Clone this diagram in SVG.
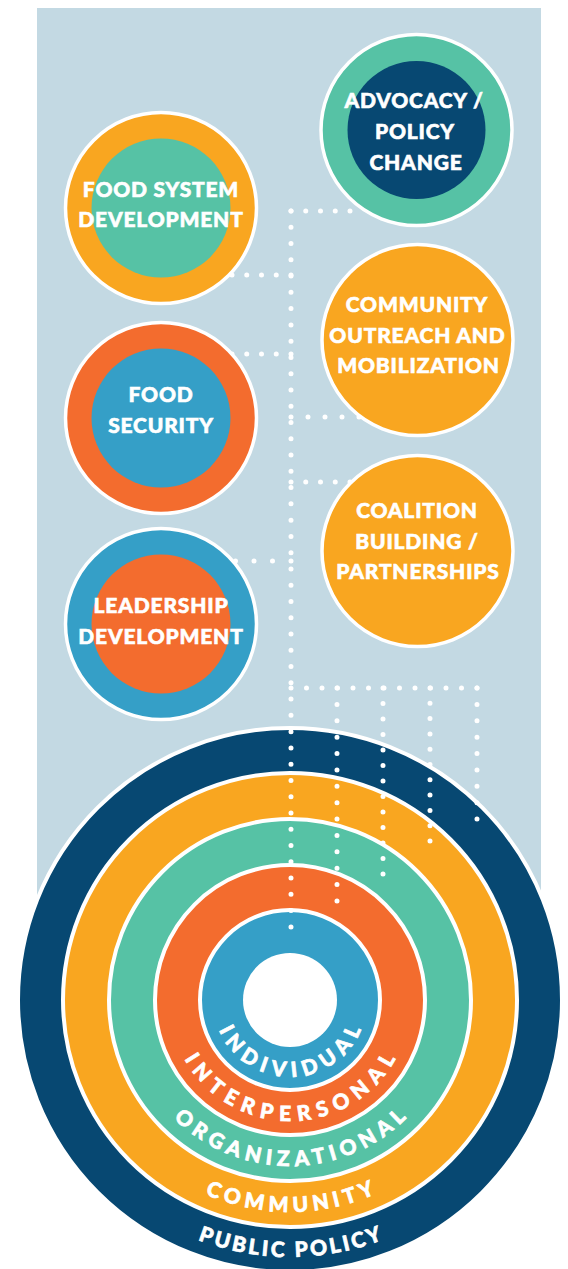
<svg xmlns="http://www.w3.org/2000/svg" width="568" height="1269" viewBox="0 0 568 1269">
<style>
.lbl{font-family:Lato,"Liberation Sans",sans-serif;font-weight:900;font-size:21px;fill:#fff;stroke:#fff;stroke-width:0.6px;text-anchor:middle;letter-spacing:0.8px}
.ring{font-family:Lato,"Liberation Sans",sans-serif;font-weight:900;font-size:21px;fill:#fff;stroke:#fff;stroke-width:0.7px;text-anchor:middle}
.outer{stroke:#fff;stroke-width:3.5}
.band{stroke:#fff;stroke-width:4}
.dot{stroke:#fff;stroke-width:5;stroke-linecap:round;fill:none}
</style>
<defs>
<path id="p77" d="M213 1000 A77 77 0 0 0 367 1000"/>
<path id="p121" d="M169 1000 A121 121 0 0 0 411 1000"/>
<path id="p166" d="M124 1000 A166 166 0 0 0 456 1000"/>
<path id="p212" d="M78 1000 A212 212 0 0 0 502 1000"/>
<path id="p257" d="M33 1000 A257 257 0 0 0 547 1000"/>
</defs>
<rect x="37" y="8" width="504" height="992" fill="#c3d9e3"/>
<g id="public-policy">
<circle cx="290" cy="1000" r="272" fill="#074872" class="band"/>
<text class="ring" style="letter-spacing:2.9px"><textPath href="#p257" startOffset="405.2">PUBLIC POLICY</textPath></text>
</g>
<g id="community">
<circle cx="290" cy="1000" r="227" fill="#f9a620" class="band"/>
<text class="ring" style="letter-spacing:5px"><textPath href="#p212" startOffset="335.5">COMMUNITY</textPath></text>
</g>
<g id="organizational">
<circle cx="290" cy="1000" r="181" fill="#56c2a5" class="band"/>
<text class="ring" style="letter-spacing:5.5px"><textPath href="#p166" startOffset="263.5">ORGANIZATIONAL</textPath></text>
</g>
<g id="interpersonal">
<circle cx="290" cy="1000" r="135" fill="#f36c2e" class="band"/>
<text class="ring" style="letter-spacing:7.2px"><textPath href="#p121" startOffset="193.7">INTERPERSONAL</textPath></text>
</g>
<g id="individual">
<circle cx="290" cy="1000" r="90" fill="#359fc7" class="band"/>
<circle cx="290" cy="1000" r="47" fill="#fff"/>
<text class="ring" style="letter-spacing:6.4px"><textPath href="#p77" startOffset="124.2">INDIVIDUAL</textPath></text>
</g>
<g id="connectors">
<line class="dot" x1="291" y1="211" x2="291" y2="927.5" stroke-dasharray="0 16.27"/>
<line class="dot" x1="291" y1="211" x2="350.5" y2="211" stroke-dasharray="0 14.75"/>
<line class="dot" x1="291" y1="275" x2="231.5" y2="275" stroke-dasharray="0 14.75"/>
<line class="dot" x1="291" y1="354" x2="231.5" y2="354" stroke-dasharray="0 14.75"/>
<line class="dot" x1="291" y1="417" x2="359.5" y2="417" stroke-dasharray="0 17"/>
<line class="dot" x1="291" y1="482" x2="350.5" y2="482" stroke-dasharray="0 14.75"/>
<line class="dot" x1="291" y1="561" x2="235" y2="561" stroke-dasharray="0 18.5"/>
<line class="dot" x1="291" y1="688" x2="477.5" y2="688" stroke-dasharray="0 15.5"/>
<line class="dot" x1="337" y1="688" x2="337" y2="901.5" stroke-dasharray="0 16.38"/>
<line class="dot" x1="383" y1="688" x2="383" y2="874.5" stroke-dasharray="0 15.5"/>
<line class="dot" x1="430" y1="688" x2="430" y2="841.5" stroke-dasharray="0 15.3"/>
<line class="dot" x1="477" y1="688" x2="477" y2="819.5" stroke-dasharray="0 16.375"/>
</g>
<g id="advocacy">
<circle cx="416.5" cy="130" r="95.5" fill="#56c2a5" class="outer"/>
<circle cx="416.5" cy="130" r="69" fill="#074872"/>
<text class="lbl" x="414" y="108">ADVOCACY /</text>
<text class="lbl" x="415" y="139">POLICY</text>
<text class="lbl" x="416" y="170">CHANGE</text>
</g>
<g id="food-system">
<circle cx="161" cy="208" r="95.5" fill="#f9a620" class="outer"/>
<circle cx="161" cy="208" r="69.5" fill="#56c2a5"/>
<text class="lbl" x="161" y="197">FOOD SYSTEM</text>
<text class="lbl" x="161" y="227">DEVELOPMENT</text>
</g>
<g id="community-outreach">
<circle cx="417.5" cy="340" r="95.5" fill="#f9a620" class="outer"/>
<text class="lbl" x="417" y="312">COMMUNITY</text>
<text class="lbl" x="417.5" y="343">OUTREACH AND</text>
<text class="lbl" x="418.5" y="373">MOBILIZATION</text>
</g>
<g id="food-security">
<circle cx="161" cy="418" r="95.5" fill="#f36c2e" class="outer"/>
<circle cx="161" cy="418" r="69.5" fill="#359fc7"/>
<text class="lbl" x="161" y="402">FOOD</text>
<text class="lbl" x="161" y="433">SECURITY</text>
</g>
<g id="coalition">
<circle cx="417.5" cy="551" r="95.5" fill="#f9a620" class="outer"/>
<text class="lbl" x="417" y="518">COALITION</text>
<text class="lbl" x="417" y="549">BUILDING /</text>
<text class="lbl" x="418" y="579">PARTNERSHIPS</text>
</g>
<g id="leadership">
<circle cx="161" cy="624" r="95.5" fill="#359fc7" class="outer"/>
<circle cx="161" cy="624" r="69.5" fill="#f36c2e"/>
<text class="lbl" x="161" y="613">LEADERSHIP</text>
<text class="lbl" x="161" y="644">DEVELOPMENT</text>
</g>
</svg>
